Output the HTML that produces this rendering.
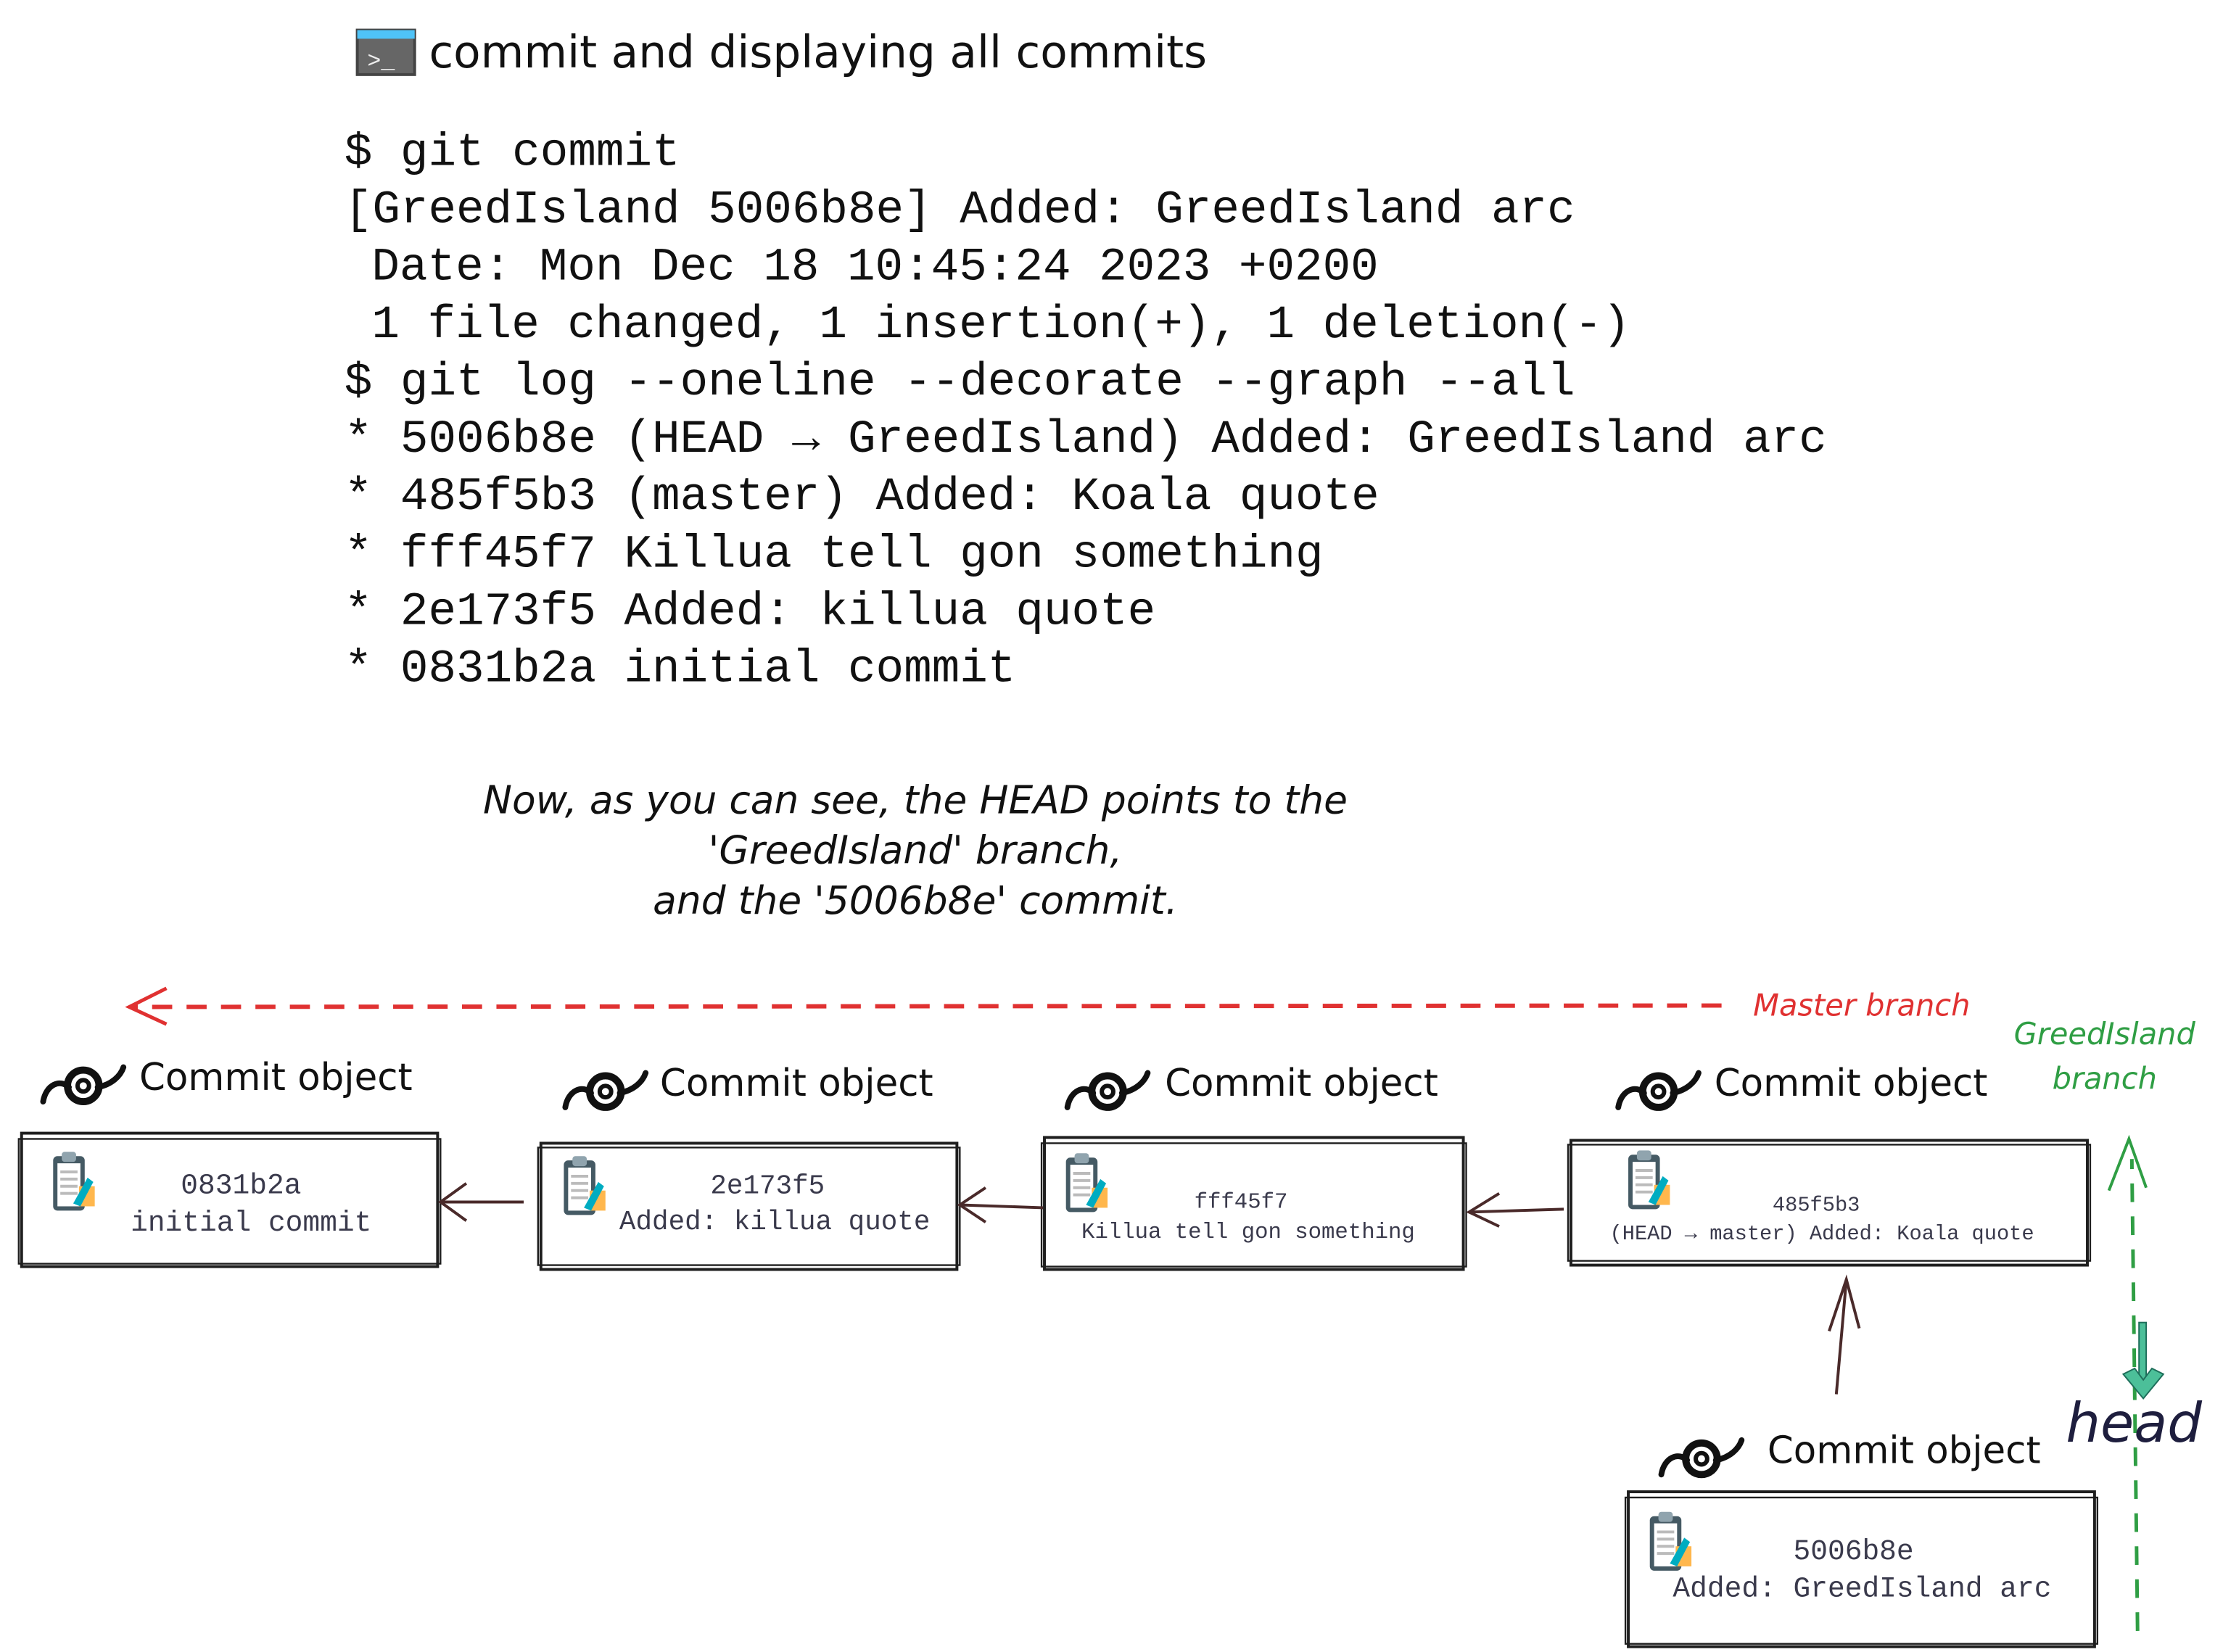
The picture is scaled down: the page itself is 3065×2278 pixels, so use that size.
<!DOCTYPE html>
<html><head><meta charset="utf-8"><style>html,body{margin:0;padding:0;background:#fff}svg{display:block}</style></head>
<body>
<svg width="3065" height="2278" viewBox="0 0 1549.5 1151.7" xmlns="http://www.w3.org/2000/svg">
<rect width="1549.5" height="1151.7" fill="#fff"/>
<defs>
<g id="eye"><path d="M2 28 C4 16 14 12 20 18" fill="none" stroke="#111" stroke-width="4" stroke-linecap="round"/><circle cx="30" cy="17" r="11" fill="none" stroke="#111" stroke-width="5"/><circle cx="30" cy="17" r="4" fill="none" stroke="#111" stroke-width="3"/><path d="M40 18 C50 16 56 10 58 4" fill="none" stroke="#111" stroke-width="4" stroke-linecap="round"/></g>
<g id="clip"><rect x="0" y="3" width="22" height="38" rx="3" fill="#455a64"/><rect x="3" y="8" width="16" height="30" fill="#fff"/><rect x="6" y="0" width="10" height="7" rx="2" fill="#90a4ae"/><g stroke="#bbb" stroke-width="2"><line x1="5" y1="14" x2="17" y2="14"/><line x1="5" y1="19" x2="17" y2="19"/><line x1="5" y1="24" x2="17" y2="24"/><line x1="5" y1="29" x2="17" y2="29"/></g><rect x="18" y="24" width="11" height="14" fill="#ffb74d"/><path d="M14 36 L24 18 L28 21 L19 38 Z" fill="#00acc1"/></g>
</defs>
<rect x="249" y="21" width="40" height="31" fill="#666" stroke="#444" stroke-width="2"/><rect x="249" y="21" width="40" height="6" fill="#4fc3f7"/><text x="256" y="47" font-family="Liberation Mono,monospace" font-size="16" fill="#eee">&gt;_</text>
<text x="299" y="47" font-family="'Comic Sans MS','DejaVu Sans',sans-serif" font-size="31" fill="#111">commit and displaying all commits</text>
<g font-family="'Liberation Mono',monospace" font-size="32.5" fill="#111">
<text x="240" y="115">$ git commit</text>
<text x="240" y="155">[GreedIsland 5006b8e] Added: GreedIsland arc</text>
<text x="259" y="195">Date: Mon Dec 18 10:45:24 2023 +0200</text>
<text x="259" y="235">1 file changed, 1 insertion(+), 1 deletion(-)</text>
<text x="240" y="275">$ git log --oneline --decorate --graph --all</text>
<text x="240" y="315">* 5006b8e (HEAD → GreedIsland) Added: GreedIsland arc</text>
<text x="240" y="355">* 485f5b3 (master) Added: Koala quote</text>
<text x="240" y="395">* fff45f7 Killua tell gon something</text>
<text x="240" y="435">* 2e173f5 Added: killua quote</text>
<text x="240" y="475">* 0831b2a initial commit</text>
</g>
<g font-family="'DejaVu Sans',sans-serif" font-size="27" fill="#111" text-anchor="middle" font-style="italic">
<text x="638" y="567">Now, as you can see, the HEAD points to the</text>
<text x="638" y="602">'GreedIsland' branch,</text>
<text x="638" y="637">and the '5006b8e' commit.</text>
</g>
<line x1="1200" y1="701" x2="92" y2="702" stroke="#e03131" stroke-width="3" stroke-dasharray="14 10"/>
<path d="M116 689 L90 702 L116 714" fill="none" stroke="#e03131" stroke-width="2.5"/>
<text x="1222" y="708" font-family="'DejaVu Sans',sans-serif" font-size="21" fill="#e03131" font-style="italic">Master branch</text>
<g font-family="'DejaVu Sans',sans-serif" font-size="21" fill="#2f9e44" font-style="italic" text-anchor="middle">
<text x="1467" y="728">GreedIsland</text><text x="1467" y="759">branch</text></g>
<g font-family="'DejaVu Sans',sans-serif" font-size="26" fill="#111">
<use href="#eye" x="28" y="740"/><text x="97" y="760">Commit object</text>
<use href="#eye" x="392" y="744"/><text x="460" y="764">Commit object</text>
<use href="#eye" x="742" y="744"/><text x="812" y="764">Commit object</text>
<use href="#eye" x="1126" y="744"/><text x="1195" y="764">Commit object</text>
<use href="#eye" x="1156" y="1000"/><text x="1232" y="1020">Commit object</text>
</g>
<g fill="none" stroke="#1e1e1e" stroke-width="2">
<rect x="15" y="790" width="290" height="93"/><rect x="13" y="794" width="294" height="87" stroke-width="1.2"/>
<rect x="377" y="797" width="290" height="88"/><rect x="375" y="800" width="294" height="82" stroke-width="1.2"/>
<rect x="728" y="793" width="292" height="92"/><rect x="726" y="797" width="296" height="86" stroke-width="1.2"/>
<rect x="1095" y="795" width="360" height="87"/><rect x="1093" y="798" width="364" height="81" stroke-width="1.2"/>
<rect x="1135" y="1040" width="325" height="108"/><rect x="1133" y="1044" width="329" height="102" stroke-width="1.2"/>
</g>
<use href="#clip" x="37" y="803"/><use href="#clip" x="393" y="806"/><use href="#clip" x="743" y="804"/><use href="#clip" x="1135" y="802"/><use href="#clip" x="1150" y="1054"/>
<g font-family="'Liberation Mono',monospace" fill="#3a3a4c" text-anchor="middle">
<text x="168" y="832" font-size="20">0831b2a</text><text x="175" y="858" font-size="20">initial commit</text>
<text x="535" y="832" font-size="19">2e173f5</text><text x="540" y="857" font-size="19">Added: killua quote</text>
<text x="865" y="842" font-size="15.5">fff45f7</text><text x="870" y="863" font-size="15.5">Killua tell gon something</text>
<text x="1266" y="844" font-size="14.5">485f5b3</text><text x="1270" y="864" font-size="14.5">(HEAD → master) Added: Koala quote</text>
<text x="1292" y="1087" font-size="20">5006b8e</text><text x="1298" y="1113" font-size="20">Added: GreedIsland arc</text>
</g>
<g fill="none" stroke="#4a2a2a" stroke-width="2">
<line x1="365" y1="838" x2="307" y2="838"/><path d="M325 825 L307 838 L325 851"/>
<line x1="727" y1="842" x2="669" y2="840"/><path d="M687 828 L669 840 L687 852"/>
<line x1="1090" y1="843" x2="1024" y2="845"/><path d="M1045 832 L1024 845 L1045 855"/>
<line x1="1280" y1="972" x2="1287" y2="892"/><path d="M1275 928 L1287 892 L1296 926"/>
</g>
<line x1="1490" y1="1137" x2="1486" y2="808" stroke="#2f9e44" stroke-width="2.5" stroke-dasharray="13 10"/>
<path d="M1470 830 L1484 794 L1496 828" fill="none" stroke="#2f9e44" stroke-width="2"/>
<rect x="1491" y="922" width="5" height="40" fill="#4cbf99" stroke="#1e6e5a" stroke-width="1"/><path d="M1480 958 L1494 975 L1508 958 L1500 954 L1494 962 L1488 954 Z" fill="#4cbf99" stroke="#1e6e5a" stroke-width="1"/>
<text x="1440" y="1005" font-family="'DejaVu Sans',sans-serif" font-size="38" fill="#1e1e3e" font-style="italic">head</text>
</svg>
</body></html>
